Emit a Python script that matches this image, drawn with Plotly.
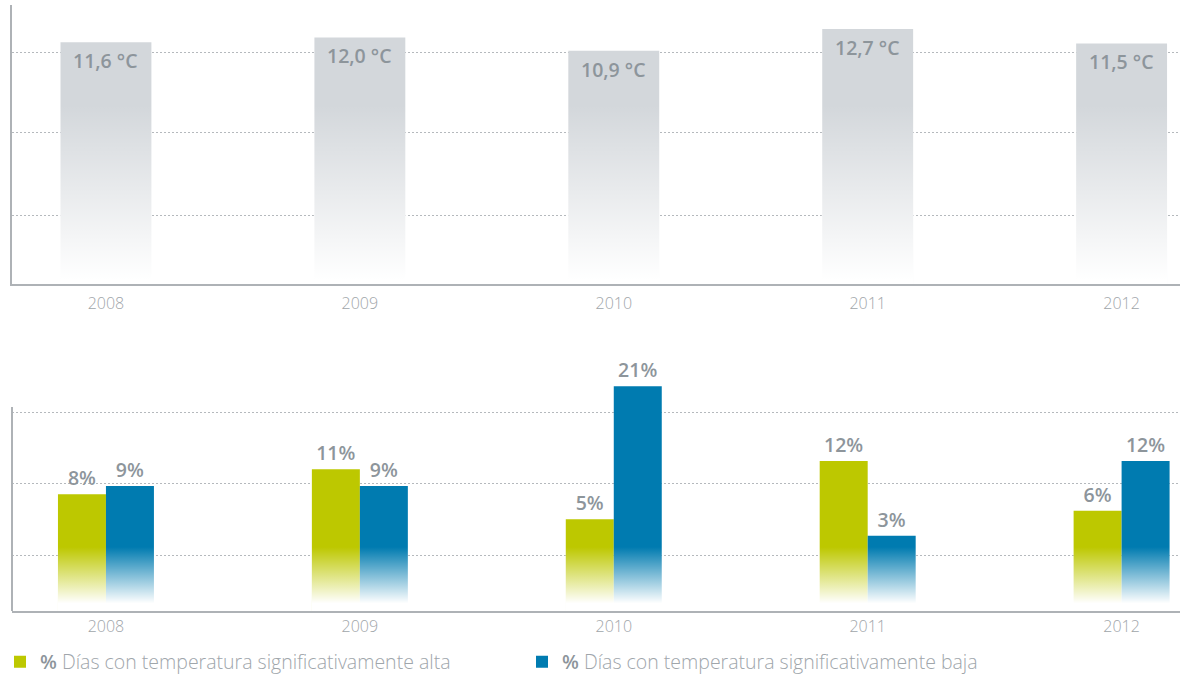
import base64
import plotly.graph_objects as go

# ---------------- data ----------------
years = [2008, 2009, 2010, 2011, 2012]
temp_mean = [11.6, 12.0, 10.9, 12.7, 11.5]
temp_labels = ["11,6 °C", "12,0 °C", "10,9 °C", "12,7 °C", "11,5 °C"]
pct_high = [8, 11, 5, 12, 6]
pct_low = [9, 9, 21, 3, 12]
name_high = "% Días con temperatura significativamente alta"
name_low = "% Días con temperatura significativamente baja"

# ---------------- style / layout constants ----------------
W, H = 1182, 674
ML, MR, MT, MB = 12, 2, 5, 63
PLOT_TOP, PLOT_BOT = MT, H - MB          # 5 .. 611
PH = PLOT_BOT - PLOT_TOP

TOP_PX = (5, 284)        # top panel pixel extent
BOT_PX = (372, 611)      # bottom panel pixel extent
BOT_AXIS_TOP = 407       # visible y-axis line start in bottom panel

TOP_RANGE = [-8.5, 14.7]
BOT_RANGE = [-6.06, 22.72]

X_RANGE = [2007.63, 2012.23]
W_TOP = 0.358
W_BOT = 0.189

GRAY = "#d3d7db"
GREEN = "#bdc800"
BLUE = "#007bb0"
LABEL = "#8d959b"
TICK = "#a0a5a9"
AXIS = "#aeb2b6"
GRID = "#b5b9bd"
FONT = "Open Sans, Lato, sans-serif"


def paper_y(px):
    return (PLOT_BOT - px) / PH


def val_at(px, pxr, rng):
    lo, hi = rng
    return lo + (pxr[1] - px) / (pxr[1] - pxr[0]) * (hi - lo)


def fade_src(full_at):
    svg = (
        '<svg xmlns="http://www.w3.org/2000/svg" width="10" height="100" '
        'viewBox="0 0 10 100" preserveAspectRatio="none">'
        '<defs><linearGradient id="g" x1="0" y1="0" x2="0" y2="1">'
        '<stop offset="0" stop-color="#ffffff" stop-opacity="0"/>'
        f'<stop offset="{full_at}" stop-color="#ffffff" stop-opacity="1"/>'
        '<stop offset="1" stop-color="#ffffff" stop-opacity="1"/>'
        '</linearGradient></defs>'
        '<rect x="0" y="0" width="10" height="100" fill="url(#g)"/></svg>'
    )
    return "data:image/svg+xml;base64," + base64.b64encode(svg.encode()).decode()


fig = go.Figure()

# top panel: mean temperature
tb = TOP_RANGE[0]
fig.add_trace(go.Bar(
    x=years, y=[v - tb for v in temp_mean], base=tb,
    width=W_TOP, marker=dict(color=GRAY, line=dict(width=0)),
    xaxis="x", yaxis="y", showlegend=False, hoverinfo="skip",
))

# bottom panel: percentages
bb = BOT_RANGE[0]
fig.add_trace(go.Bar(
    x=years, y=[v - bb for v in pct_high], base=bb,
    width=W_BOT, offset=-W_BOT,
    marker=dict(color=GREEN, line=dict(width=0)),
    text=[f"{v}%" for v in pct_high], textposition="outside",
    textfont=dict(family=FONT, size=19.5, color=LABEL, weight=600),
    cliponaxis=False, xaxis="x2", yaxis="y2",
    name=f"<span style='color:{LABEL};font-weight:600'>%</span> " + name_high[2:],
))
fig.add_trace(go.Bar(
    x=years, y=[v - bb for v in pct_low], base=bb,
    width=W_BOT, offset=0,
    marker=dict(color=BLUE, line=dict(width=0)),
    text=[f"{v}%" for v in pct_low], textposition="outside",
    textfont=dict(family=FONT, size=19.5, color=LABEL, weight=600),
    cliponaxis=False, xaxis="x2", yaxis="y2",
    name=f"<span style='color:{LABEL};font-weight:600'>%</span> " + name_low[2:],
))

# labels inside the temperature bars
annotations = []
for yr, v, lab in zip(years, temp_mean, temp_labels):
    annotations.append(dict(
        x=yr, y=v, xref="x", yref="y", text=lab, showarrow=False,
        yanchor="top", yshift=-3,
        font=dict(family=FONT, size=19.5, color=LABEL, weight=600),
    ))

# white fades over the bars (gradient bottoms)
images = []
top_src = fade_src(0.975)
bot_src = fade_src(0.88)
for yr in years:
    images.append(dict(
        source=top_src, xref="x", yref="paper",
        x=yr - W_TOP / 2 - 0.003, sizex=W_TOP + 0.006,
        y=paper_y(105), sizey=(TOP_PX[1] - 105) / PH,
        xanchor="left", yanchor="top", sizing="stretch", layer="above",
    ))
    images.append(dict(
        source=bot_src, xref="x2", yref="paper",
        x=yr - W_BOT - 0.003, sizex=2 * W_BOT + 0.006,
        y=paper_y(547), sizey=(BOT_PX[1] - 547) / PH,
        xanchor="left", yanchor="top", sizing="stretch", layer="above",
    ))

top_grid = [val_at(p, TOP_PX, TOP_RANGE) for p in (52.3, 132.3, 215)]
bot_grid = [val_at(p, BOT_PX, BOT_RANGE) for p in (412, 483.5, 555)]

xaxis_common = dict(
    range=X_RANGE, tickmode="array", tickvals=years,
    ticktext=[str(y) for y in years], showgrid=False, zeroline=False,
    showline=True, linecolor=AXIS, linewidth=2,
    ticks="outside", tickcolor="rgba(0,0,0,0)",
    tickfont=dict(family=FONT, size=16, color=TICK, weight=300),
    fixedrange=True,
)

fig.update_layout(
    width=W, height=H, autosize=False,
    margin=dict(l=ML, r=MR, t=MT, b=MB, pad=0, autoexpand=False),
    paper_bgcolor="white", plot_bgcolor="white",
    barmode="overlay",
    xaxis=dict(**xaxis_common, domain=[0, 1], anchor="y", ticklen=4),
    yaxis=dict(
        domain=[paper_y(TOP_PX[1]), paper_y(TOP_PX[0])], anchor="x",
        range=TOP_RANGE, tickmode="array", tickvals=top_grid,
        showticklabels=False, ticks="", showgrid=True, gridcolor=GRID,
        gridwidth=1, griddash="2px,2px", zeroline=False,
        showline=True, linecolor=AXIS, linewidth=2, fixedrange=True,
    ),
    xaxis2=dict(**xaxis_common, domain=[0, 1], anchor="y2", ticklen=0),
    yaxis2=dict(
        domain=[0, paper_y(BOT_PX[0])], anchor="x2",
        range=BOT_RANGE, tickmode="array", tickvals=bot_grid,
        showticklabels=False, ticks="", showgrid=True, gridcolor=GRID,
        gridwidth=1, griddash="2px,2px", zeroline=False,
        showline=False, fixedrange=True,
    ),
    shapes=[dict(
        type="line", xref="x2 domain", yref="paper",
        x0=0, x1=0, y0=paper_y(BOT_AXIS_TOP), y1=0,
        line=dict(color=AXIS, width=2), layer="above",
    )],
    annotations=annotations,
    images=images,
    showlegend=True,
    legend=dict(
        orientation="h", xref="container", yref="container",
        x=0, xanchor="left",
        y=(H - 662) / H, yanchor="middle",
        font=dict(family=FONT, size=19.5, color="#a0a6ab", weight=300),
        entrywidth=477, entrywidthmode="pixels", itemwidth=30,
        bgcolor="rgba(0,0,0,0)", traceorder="normal",
    ),
    hovermode=False,
)

fig.write_html("out.html", config={"displayModeBar": False},
               post_script="document.body.style.margin='0';")
